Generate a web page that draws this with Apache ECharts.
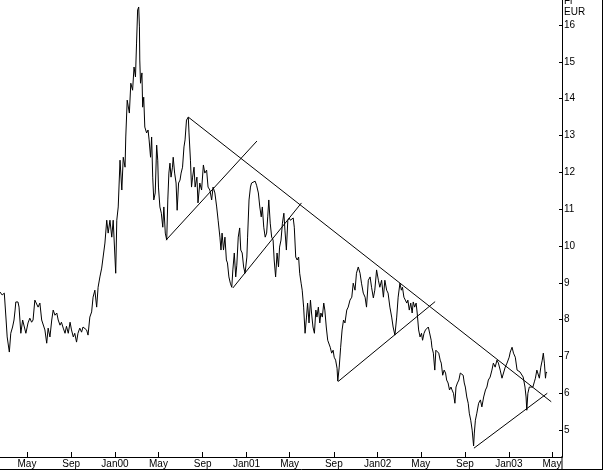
<!DOCTYPE html>
<html><head><meta charset="utf-8">
<script src="https://cdn.jsdelivr.net/npm/echarts@6/dist/echarts.min.js"></script>
<style>html,body{margin:0;padding:0;background:#fff}#c{width:603px;height:470px}</style>
</head><body><div id="c"></div>
<script>
// ---- data ----
const dates1999 = ['1999-02-15','1999-02-21','1999-02-27','1999-03-03','1999-03-04','1999-03-07','1999-03-13','1999-03-17','1999-03-22','1999-03-26','1999-03-29','1999-03-31','1999-04-06','1999-04-09','1999-04-14','1999-04-19','1999-04-23','1999-04-28','1999-05-04','1999-05-09','1999-05-14','1999-05-18','1999-05-23','1999-05-28','1999-06-01','1999-06-06','1999-06-11','1999-06-15','1999-06-20','1999-06-25','1999-06-29','1999-07-04','1999-07-09','1999-07-13','1999-07-18','1999-07-23','1999-07-27','1999-08-01','1999-08-05','1999-08-10','1999-08-15','1999-08-19','1999-08-24','1999-08-29','1999-09-02','1999-09-07','1999-09-11','1999-09-16','1999-09-20','1999-09-25','1999-09-30','1999-10-04','1999-10-09','1999-10-14','1999-10-18','1999-10-23','1999-10-28','1999-11-01','1999-11-06','1999-11-11','1999-11-15','1999-11-20','1999-11-25','1999-11-29','1999-12-04','1999-12-09','1999-12-13','1999-12-18','1999-12-23','1999-12-27'];
const prices1999 = [8.75,8.67,8.72,8.72,7.99,7.53,7.12,7.63,7.80,7.99,8.26,8.48,8.48,8.34,7.63,7.99,8.04,7.63,7.91,8.04,7.93,7.99,8.53,8.48,8.34,8.45,7.99,8.04,7.72,7.36,7.77,7.53,7.99,8.26,8.12,8.18,7.99,7.85,7.93,7.77,7.63,7.82,7.63,7.93,7.72,7.53,7.63,7.39,7.63,7.77,7.66,7.80,7.85,7.72,7.58,8.07,8.21,8.61,8.80,8.34,8.88,9.16,9.40,9.43,10.08,10.70,10.35,10.70,10.24,10.70];

const dates2000 = ['2000-01-03','2000-01-06','2000-01-10','2000-01-15','2000-01-20','2000-01-24','2000-01-29','2000-01-31','2000-02-04','2000-02-10','2000-02-14','2000-02-19','2000-02-23','2000-02-27','2000-03-01','2000-03-04','2000-03-07','2000-03-09','2000-03-10','2000-03-12','2000-03-16','2000-03-18','2000-03-21','2000-03-24','2000-03-29','2000-04-02','2000-04-05','2000-04-09','2000-04-12','2000-04-15','2000-04-18','2000-04-22','2000-04-26','2000-04-29','2000-05-01','2000-05-05','2000-05-09','2000-05-13','2000-05-16','2000-05-20','2000-05-24','2000-05-27','2000-05-30','2000-06-02','2000-06-05','2000-06-09','2000-06-11','2000-06-15','2000-06-19','2000-06-22','2000-06-26','2000-06-30','2000-07-03','2000-07-07','2000-07-11','2000-07-14','2000-07-18','2000-07-23','2000-07-25','2000-07-29','2000-08-01','2000-08-04','2000-08-08','2000-08-11','2000-08-16','2000-08-19','2000-08-24','2000-08-29','2000-09-03','2000-09-07','2000-09-12','2000-09-16','2000-09-21','2000-09-26','2000-09-30','2000-10-05','2000-10-10','2000-10-14','2000-10-19','2000-10-22','2000-10-25','2000-10-29','2000-11-02','2000-11-06','2000-11-09','2000-11-13','2000-11-17','2000-11-21','2000-11-24','2000-11-28','2000-12-02','2000-12-05','2000-12-09','2000-12-13','2000-12-16','2000-12-20','2000-12-24','2000-12-28'];
const prices2000 = [9.26,10.70,11.06,12.33,11.52,12.41,12.14,12.96,13.96,13.61,14.42,14.23,14.86,14.59,15.51,16.41,16.49,15.95,15.05,14.42,14.70,13.77,14.04,13.23,13.07,13.15,12.88,12.41,12.96,11.87,11.25,11.44,12.74,12.33,11.60,11.06,10.89,10.51,11.06,10.35,10.16,11.25,11.98,12.25,11.87,12.14,12.41,11.98,11.71,10.97,11.71,11.79,11.98,12.14,12.69,12.88,13.42,13.50,13.07,12.33,11.60,11.87,12.14,11.60,11.87,11.17,11.71,11.52,12.20,11.98,12.06,11.60,11.52,11.25,11.60,11.44,11.06,10.70,10.24,9.89,10.35,9.89,10.24,9.62,9.54,9.16,8.99,8.88,9.35,9.81,9.16,9.48,10.24,10.49,9.89,9.81,9.43,9.26];

const dates2001 = ['2001-01-02','2001-01-04','2001-01-08','2001-01-12','2001-01-15','2001-01-20','2001-01-25','2001-01-29','2001-02-03','2001-02-07','2001-02-11','2001-02-14','2001-02-18','2001-02-22','2001-02-26','2001-03-01','2001-03-04','2001-03-08','2001-03-12','2001-03-16','2001-03-19','2001-03-23','2001-03-27','2001-03-31','2001-04-03','2001-04-07','2001-04-11','2001-04-15','2001-04-18','2001-04-22','2001-04-26','2001-04-30','2001-05-03','2001-05-07','2001-05-11','2001-05-14','2001-05-18','2001-05-22','2001-05-26','2001-05-29','2001-06-02','2001-06-05','2001-06-09','2001-06-13','2001-06-17','2001-06-20','2001-06-24','2001-06-28','2001-07-01','2001-07-05','2001-07-09','2001-07-13','2001-07-16','2001-07-20','2001-07-24','2001-07-27','2001-07-31','2001-08-04','2001-08-07','2001-08-11','2001-08-15','2001-08-19','2001-08-22','2001-08-26','2001-08-30','2001-09-02','2001-09-06','2001-09-10','2001-09-12','2001-09-16','2001-09-20','2001-09-24','2001-09-28','2001-10-02','2001-10-07','2001-10-11','2001-10-16','2001-10-21','2001-10-25','2001-10-30','2001-11-03','2001-11-08','2001-11-13','2001-11-17','2001-11-22','2001-11-27','2001-12-01','2001-12-06','2001-12-11','2001-12-15','2001-12-20','2001-12-24','2001-12-29'];
const prices2001 = [9.70,10.24,11.25,11.60,11.71,11.73,11.76,11.65,11.44,11.06,10.79,11.06,10.51,10.24,10.35,10.79,11.25,10.62,10.24,10.16,9.62,9.16,9.81,9.43,9.97,10.16,10.62,10.89,10.43,9.89,10.70,10.76,10.70,10.65,10.76,10.51,9.70,9.62,9.70,9.26,8.99,8.80,8.34,7.63,8.07,8.45,7.91,8.53,8.18,7.80,7.63,8.26,8.07,8.34,7.91,8.18,8.07,8.45,8.26,7.80,7.44,7.44,7.25,7.09,7.17,6.98,6.90,6.68,6.33,6.71,7.25,7.72,7.99,7.91,8.26,8.34,8.53,8.61,8.99,8.80,9.26,9.43,9.26,8.99,8.72,8.61,8.34,9.07,9.16,8.88,8.59,8.80,9.35];

const dates2002 = ['2002-01-03','2002-01-07','2002-01-12','2002-01-17','2002-01-21','2002-01-26','2002-01-30','2002-02-04','2002-02-09','2002-02-13','2002-02-18','2002-02-23','2002-02-27','2002-03-04','2002-03-08','2002-03-11','2002-03-15','2002-03-19','2002-03-23','2002-03-26','2002-03-30','2002-04-03','2002-04-07','2002-04-10','2002-04-14','2002-04-18','2002-04-21','2002-04-25','2002-04-29','2002-05-03','2002-05-06','2002-05-10','2002-05-14','2002-05-18','2002-05-22','2002-05-27','2002-05-30','2002-06-01','2002-06-05','2002-06-09','2002-06-12','2002-06-16','2002-06-20','2002-06-24','2002-06-27','2002-07-01','2002-07-05','2002-07-09','2002-07-12','2002-07-16','2002-07-20','2002-07-24','2002-07-27','2002-07-31','2002-08-04','2002-08-07','2002-08-11','2002-08-15','2002-08-19','2002-08-23','2002-08-27','2002-08-30','2002-09-02','2002-09-06','2002-09-10','2002-09-13','2002-09-17','2002-09-21','2002-09-25','2002-09-27','2002-09-30','2002-10-04','2002-10-09','2002-10-14','2002-10-18','2002-10-23','2002-10-28','2002-11-01','2002-11-05','2002-11-10','2002-11-15','2002-11-19','2002-11-24','2002-11-29','2002-12-03','2002-12-08','2002-12-13','2002-12-17','2002-12-22','2002-12-27'];
const prices2002 = [9.07,8.88,9.07,8.61,9.07,8.80,8.72,8.34,8.07,7.80,7.58,8.07,8.61,8.99,8.80,8.88,8.61,8.53,8.45,8.53,8.26,8.45,8.18,8.48,8.34,8.45,8.18,7.72,7.53,7.63,7.44,7.63,7.72,7.77,7.80,7.80,7.44,7.25,7.09,6.63,7.17,7.17,7.09,6.90,6.82,6.49,6.63,6.55,6.36,6.28,6.09,6.17,6.09,6.00,5.73,6.17,6.28,6.36,6.55,6.58,6.49,6.28,6.17,5.90,5.73,5.46,5.27,5.00,4.57,4.92,5.27,5.46,5.73,5.82,5.63,5.90,6.09,6.17,6.36,6.44,6.63,6.82,6.71,6.90,6.82,6.63,6.41,6.36,6.71,6.82];

const dates2003 = ['2003-01-02','2003-01-05','2003-01-10','2003-01-14','2003-01-19','2003-01-24','2003-01-28','2003-02-01','2003-02-06','2003-02-10','2003-02-15','2003-02-18','2003-02-20','2003-02-23','2003-02-27','2003-03-04','2003-03-09','2003-03-13','2003-03-16','2003-03-20','2003-03-25','2003-03-27','2003-03-31','2003-04-04','2003-04-07','2003-04-10','2003-04-13','2003-04-15','2003-04-17'];
const prices2003 = [6.98,7.12,7.25,7.09,6.98,6.63,6.58,6.58,6.55,6.44,6.17,5.90,5.54,6.00,6.17,6.14,6.17,6.31,6.41,6.63,6.68,6.41,6.71,6.90,7.09,6.82,6.41,6.58,6.55];

// trend lines drawn on the chart
const trendStartDates = ['2000-07-23','2000-05-22','2000-11-24','2001-09-13','2002-09-26'];
const trendStartValues = [13.50, 10.16, 8.86, 6.32, 4.51];
const trendEndDates = ['2003-04-29','2001-01-30','2001-06-03','2002-06-10','2003-04-18'];
const trendEndValues = [5.77, 12.85, 11.17, 8.49, 6.00];

// axis ticks
const xTickDates = ['1999-05-01','1999-09-01','2000-01-01','2000-05-01','2000-09-01','2001-01-01','2001-05-01','2001-09-01','2002-01-01','2002-05-01','2002-09-01','2003-01-01','2003-05-01'];
const xTickLabels = ['May','Sep','Jan00','May','Sep','Jan01','May','Sep','Jan02','May','Sep','Jan03','May'];
const yTicks = [5,6,7,8,9,10,11,12,13,14,15,16];
const xMinDate = '1999-02-15', xMaxDate = '2003-05-29';
const yMin = 4.27, yMax = 16.68;

// ---- chart ----
const P = s => Date.parse(s + 'T00:00:00Z');
const dates = [].concat(dates1999, dates2000, dates2001, dates2002, dates2003);
const prices = [].concat(prices1999, prices2000, prices2001, prices2002, prices2003);
const xTickTs = xTickDates.map(P);
const FONT = '"Liberation Sans", Arial, sans-serif';

const trendSeries = trendStartDates.map((d, i) => ({
  type: 'line', symbol: 'none', silent: true,
  lineStyle: {color: '#000', width: 1},
  data: [[P(d), trendStartValues[i]], [P(trendEndDates[i]), trendEndValues[i]]]
}));

const chart = echarts.init(document.getElementById('c'));
chart.setOption({
  animation: false,
  backgroundColor: '#fff',
  grid: {left: 0, right: 41, top: 0, bottom: 13},
  xAxis: {
    type: 'value', min: P(xMinDate), max: P(xMaxDate), scale: true,
    axisLine: {show: true, lineStyle: {color: '#000', width: 1}},
    axisTick: {show: true, inside: true, length: 5, lineStyle: {color: '#000'}, customValues: xTickTs},
    axisLabel: {
      customValues: xTickTs, color: '#000', fontFamily: FONT, fontSize: 10, margin: 2,
      formatter: v => { const i = xTickTs.findIndex(t => Math.abs(t - v) < 3600e3 * 30); return i >= 0 ? xTickLabels[i] : ''; }
    },
    splitLine: {show: false}
  },
  yAxis: {
    type: 'value', position: 'right', min: yMin, max: yMax,
    axisLine: {show: true, lineStyle: {color: '#000', width: 1}},
    axisTick: {show: true, inside: true, length: 3, lineStyle: {color: '#000'}, customValues: yTicks},
    axisLabel: {customValues: yTicks, color: '#000', fontFamily: FONT, fontSize: 10, margin: 2},
    splitLine: {show: false}
  },
  graphic: [
    {type: 'line', silent: true, shape: {x1: 562, y1: 456, x2: 562, y2: 470}, style: {stroke: '#000', lineWidth: 1}},
    {type: 'line', silent: true, shape: {x1: 0, y1: 469.5, x2: 603, y2: 469.5}, style: {stroke: '#000', lineWidth: 1}},
    {type: 'line', silent: true, shape: {x1: 602.5, y1: 0, x2: 602.5, y2: 470}, style: {stroke: '#000', lineWidth: 1}},
    {type: 'text', silent: true, left: 564, top: -4, style: {text: 'Fr', fill: '#000', font: '10px ' + FONT}},
    {type: 'text', silent: true, left: 564, top: 7, style: {text: 'EUR', fill: '#000', font: '10px ' + FONT}}
  ],
  series: [{
    type: 'line', symbol: 'none', silent: true,
    lineStyle: {color: '#000', width: 1},
    data: dates.map((d, i) => [P(d), prices[i]])
  }].concat(trendSeries)
});
</script></body></html>
